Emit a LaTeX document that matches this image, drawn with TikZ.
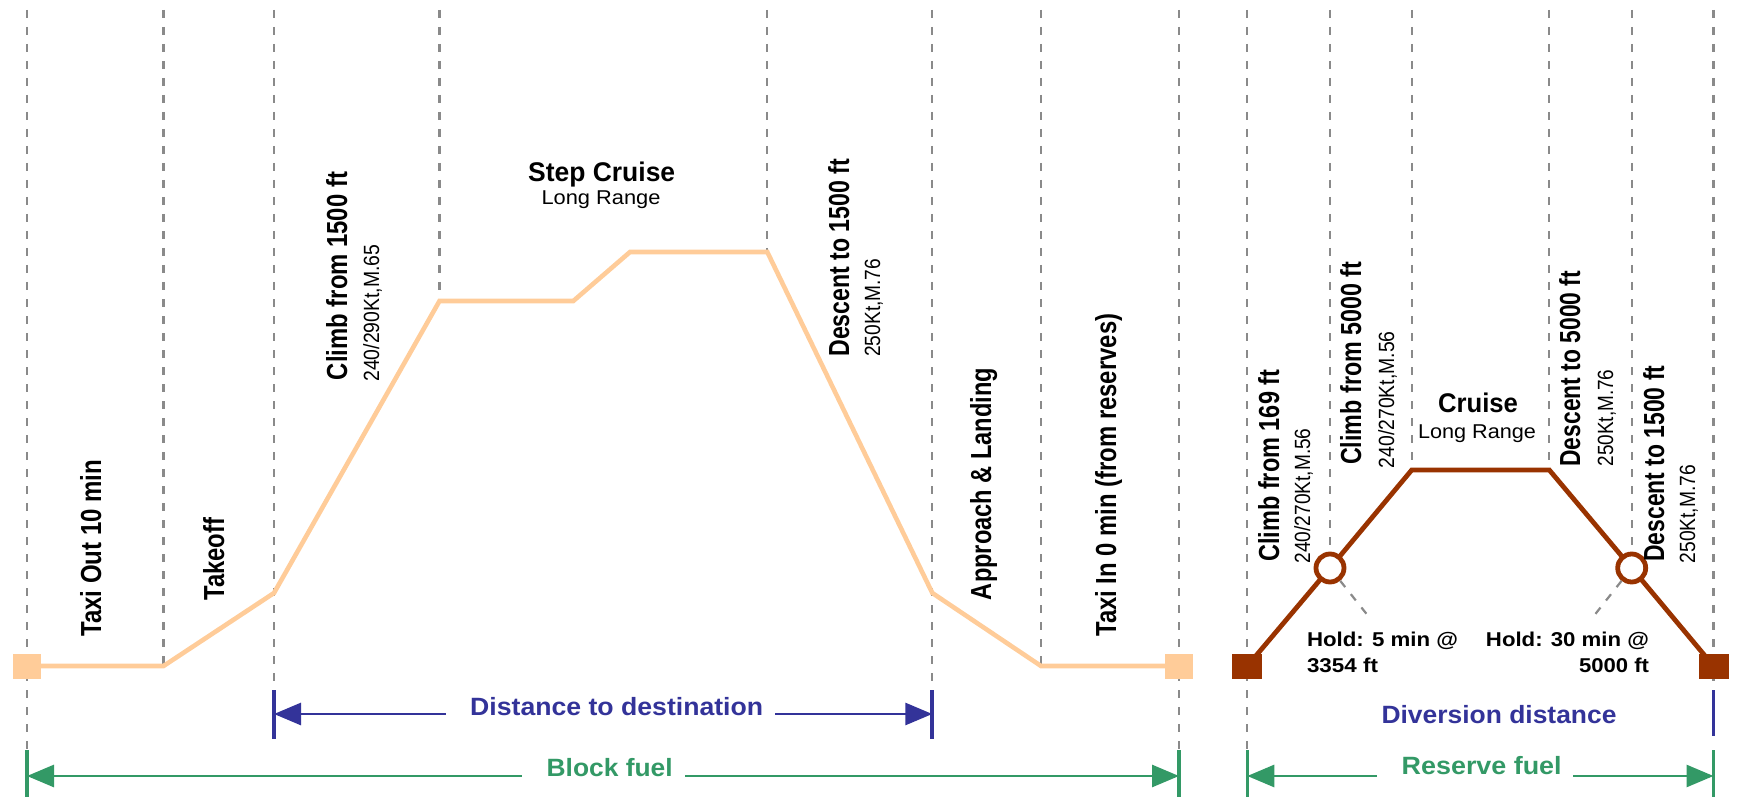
\documentclass[tikz,border=0pt]{standalone}
\usepackage{fontspec}
\setmainfont{Liberation Sans}
\usepackage{graphicx}
\usetikzlibrary{arrows.meta}
\newlength\pxu
\setlength\pxu{0.5pt}
\newcommand{\fitx}[2]{\resizebox{#1\pxu}{\height}{#2}}
\definecolor{peach}{HTML}{FFCC99}
\definecolor{rust}{HTML}{993300}
\definecolor{navyblue}{HTML}{333399}
\definecolor{fuelgreen}{HTML}{339966}
\definecolor{guidegray}{HTML}{8A8A8A}
\tikzset{
  guide/.style={draw=guidegray, line width=1.1pt, dash pattern=on 4pt off 4.5pt},
  mainpath/.style={draw=peach, line width=2.3pt},
  divpath/.style={draw=rust, line width=2.4pt},
  peachsq/.style={fill=peach, draw=none, minimum width=14pt, minimum height=12.5pt, inner sep=0pt},
  rustsq/.style={fill=rust, draw=none, minimum width=15pt, minimum height=12.5pt, inner sep=0pt},
  holdcircle/.style={circle, draw=rust, line width=2.4pt, fill=white, minimum size=14pt, inner sep=0pt},
  lbl/.style={inner sep=0pt, outer sep=0pt},
  vbig/.style={lbl, rotate=90, anchor=base west, font=\fontsize{14.5}{16}\selectfont\bfseries},
  vsmall/.style={lbl, rotate=90, anchor=base west, font=\fontsize{11}{13}\selectfont},
  htitle/.style={lbl, anchor=base, font=\fontsize{13.5}{16}\selectfont\bfseries},
  hsub/.style={lbl, anchor=base, font=\fontsize{10}{12}\selectfont},
  hold/.style={lbl, font=\fontsize{10}{12}\selectfont\bfseries},
  dimlabel/.style={lbl, anchor=base, font=\fontsize{12.5}{15}\selectfont\bfseries},
  bluetick/.style={draw=navyblue, line width=1.9pt},
  blueline/.style={draw=navyblue, line width=1.4pt},
  greentick/.style={draw=fuelgreen, line width=1.7pt},
  greenline/.style={draw=fuelgreen, line width=1.4pt},
  tip/.style={arrows={-Triangle[length=13.5pt,width=11pt]}},
}
\begin{document}
\begin{tikzpicture}[x=0.5pt,y=-0.5pt]
\useasboundingbox (0,0) rectangle (1737,797);

% vertical guides
\foreach \n/\x/\yb in {A/27/750, B/163.5/666, C/274/690, D/439.5/301, E/767.3/252,
  F/932.3/690, G/1041/666, H/1179/750, I/1247.3/750, J/1330/568, K/1411.7/470,
  L/1549.3/470, M/1631.7/568, N/1713.5/690} {
  \coordinate (g\n t) at (\x,10);
  \coordinate (g\n b) at (\x,\yb);
  \draw[guide] (g\n t) -- (g\n b);
}

% main flight profile
\coordinate (o1) at (27,666);
\coordinate (o2) at (163.5,666);
\coordinate (o3) at (274,593);
\coordinate (o4) at (439.5,301);
\coordinate (o5) at (573.3,301);
\coordinate (o6) at (630,252);
\coordinate (o7) at (767.3,252);
\coordinate (o8) at (932.3,593);
\coordinate (o9) at (1041,666);
\coordinate (o10) at (1179,666);
\draw[mainpath] (o1) -- (o2) -- (o3) -- (o4) -- (o5) -- (o6) -- (o7) -- (o8) -- (o9) -- (o10);
\node[peachsq] (sqStart) at (o1) {};
\node[peachsq] (sqEnd) at (o10) {};

% diversion profile
\coordinate (b1) at (1247.3,666);
\coordinate (b2) at (1330,568);
\coordinate (b3) at (1411.7,470);
\coordinate (b4) at (1549.3,470);
\coordinate (b5) at (1631.7,568);
\coordinate (b6) at (1713.5,666);
\draw[divpath] (b1) -- (b2) -- (b3) -- (b4) -- (b5) -- (b6);
\node[holdcircle] (c1) at (b2) {};
\node[holdcircle] (c2) at (b5) {};
\node[rustsq] (sqDivA) at (b1) {};
\node[rustsq] (sqDivB) at (b6) {};

% hold leaders
\coordinate (h1) at (1369,617);
\coordinate (h2) at (1593,617);
\draw[guide] (c1) -- (h1);
\draw[guide] (c2) -- (h2);

% rotated labels
\node[vbig] (lTaxiOut) at (101,636.7) {\fitx{177}{Taxi Out 10 min}};
\node[vbig] (lTakeoff) at (224,600.7) {\fitx{83}{Takeoff}};
\node[vbig] (lClimb) at (347,380) {\fitx{208}{Climb from 1500 ft}};
\node[vsmall] (lClimbS) at (379,381.7) {\fitx{137}{240/290Kt,M.65}};
\node[vbig] (lDesc) at (849,356.7) {\fitx{198}{Descent to 1500 ft}};
\node[vsmall] (lDescS) at (880,356.7) {\fitx{98}{250Kt,M.76}};
\node[vbig] (lAppr) at (991,600) {\fitx{232}{Approach \& Landing}};
\node[vbig] (lTaxiIn) at (1116,636.7) {\fitx{323}{Taxi In 0 min (from reserves)}};
\node[vbig] (lRClimbA) at (1279,561.7) {\fitx{192}{Climb from 169 ft}};
\node[vsmall] (lRClimbAS) at (1310,563.4) {\fitx{135}{240/270Kt,M.56}};
\node[vbig] (lRClimbB) at (1361,464.8) {\fitx{203}{Climb from 5000 ft}};
\node[vsmall] (lRClimbBS) at (1394,468.3) {\fitx{137}{240/270Kt,M.56}};
\node[vbig] (lRDescA) at (1580,466.5) {\fitx{195.5}{Descent to 5000 ft}};
\node[vsmall] (lRDescAS) at (1613,466.5) {\fitx{97}{250Kt,M.76}};
\node[vbig] (lRDescB) at (1664,561.7) {\fitx{196}{Descent to 1500 ft}};
\node[vsmall] (lRDescBS) at (1695,563.4) {\fitx{98.6}{250Kt,M.76}};

% horizontal labels
\node[htitle] (lStep) at (601.7,182) {\fitx{147}{Step Cruise}};
\node[hsub] (lStepS) at (601,205) {\fitx{119}{Long Range}};
\node[htitle] (lCruise) at (1478,412) {\fitx{80}{Cruise}};
\node[hsub] (lCruiseS) at (1477,438) {\fitx{118}{Long Range}};
\node[hold, anchor=base west] (lHoldA1) at (1307,646.5) {\fitx{151}{Hold: 5 min @}};
\node[hold, anchor=base west] (lHoldA2) at (1307,672.4) {\fitx{71}{3354 ft}};
\node[hold, anchor=base east] (lHoldB1) at (1649,646.5) {\fitx{163}{Hold: 30 min @}};
\node[hold, anchor=base east] (lHoldB2) at (1649,672.4) {\fitx{70}{5000 ft}};

% distance to destination
\coordinate (dA1) at (274,690); \coordinate (dA2) at (274,739);
\coordinate (dB1) at (932.3,690); \coordinate (dB2) at (932.3,739);
\draw[bluetick] (dA1) -- (dA2);
\draw[bluetick] (dB1) -- (dB2);
\coordinate (dL) at (274,714); \coordinate (dLe) at (445.7,714);
\coordinate (dR) at (932.3,714); \coordinate (dRs) at (775,714);
\draw[blueline, tip] (dLe) -- (dL);
\draw[blueline, tip] (dRs) -- (dR);
\node[dimlabel, text=navyblue] (lDist) at (616.7,715.3) {\fitx{293}{Distance to destination}};

% diversion distance
\coordinate (vA1) at (1713.5,690); \coordinate (vA2) at (1713.5,736);
\draw[bluetick] (vA1) -- (vA2);
\node[dimlabel, text=navyblue] (lDiv) at (1499,723) {\fitx{235}{Diversion distance}};

% block fuel
\coordinate (kA1) at (27,750); \coordinate (kA2) at (27,797);
\coordinate (kB1) at (1179,750); \coordinate (kB2) at (1179,797);
\draw[greentick] (kA1) -- (kA2);
\draw[greentick] (kB1) -- (kB2);
\coordinate (kL) at (27,776); \coordinate (kLe) at (521.7,776);
\coordinate (kR) at (1179,776); \coordinate (kRs) at (685,776);
\draw[greenline, tip] (kLe) -- (kL);
\draw[greenline, tip] (kRs) -- (kR);
\node[dimlabel, text=fuelgreen] (lBlock) at (609.7,776) {\fitx{126}{Block fuel}};

% reserve fuel
\coordinate (rA1) at (1247.3,750); \coordinate (rA2) at (1247.3,797);
\coordinate (rB1) at (1713.5,750); \coordinate (rB2) at (1713.5,797);
\draw[greentick] (rA1) -- (rA2);
\draw[greentick] (rB1) -- (rB2);
\coordinate (rL) at (1247.3,776); \coordinate (rLe) at (1377,776);
\coordinate (rR) at (1713.5,776); \coordinate (rRs) at (1573.3,776);
\draw[greenline, tip] (rLe) -- (rL);
\draw[greenline, tip] (rRs) -- (rR);
\node[dimlabel, text=fuelgreen] (lReserve) at (1481.7,774.5) {\fitx{160}{Reserve fuel}};
\end{tikzpicture}
\end{document}
